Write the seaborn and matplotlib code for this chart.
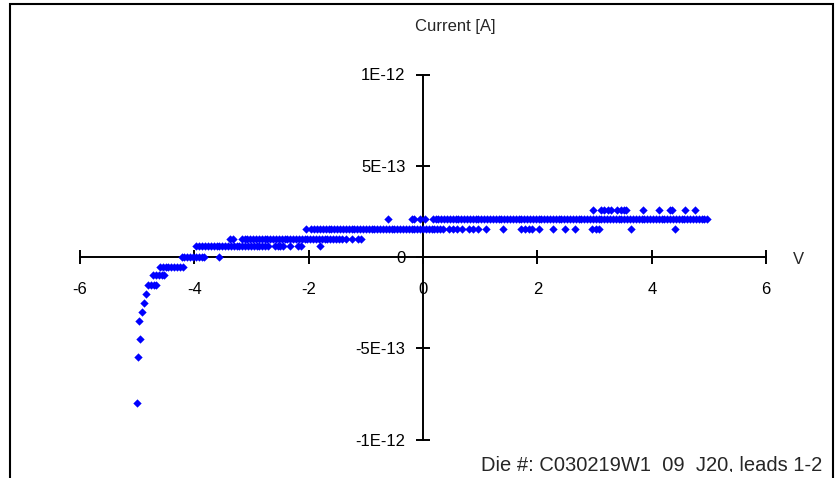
import numpy as np
import pandas as pd
import matplotlib
matplotlib.use("Agg")
import matplotlib.pyplot as plt
import seaborn as sns
from matplotlib.patches import Rectangle
from matplotlib.transforms import Bbox

# ---------------- data ----------------
# sweep step of the voltage source (V)
sweep_step = 0.05

# steep reverse-breakdown readings
tail_v = [-5.00, -4.98, -4.94, -4.96, -4.91, -4.87, -4.84]
tail_i = [-8.0e-13, -5.5e-13, -4.5e-13, -3.5e-13, -3.0e-13, -2.5e-13, -2.05e-13]

# continuous runs of readings at one current level (start V, end V, current A)
run_start = [-4.81, -4.72, -4.60, -4.22, -3.96, -3.17, -1.14, -1.95, 0.17]
run_end = [-4.65, -4.51, -4.20, -3.78, -2.70, -1.40, -1.05, 0.30, 5.00]
run_level = [-1.55e-13, -1.0e-13, -0.55e-13, 0.0, 0.6e-13, 1.0e-13, 1.0e-13,
             1.55e-13, 2.1e-13]

# isolated readings per current level
iso_v_0 = [-3.56]
iso_v_06 = [-2.59, -2.54, -2.50, -2.45, -2.33, -2.18, -2.13, -1.80]
iso_v_10 = [-3.37, -3.32, -1.34, -1.25]
iso_v_155 = [-2.05, 0.35, 0.45, 0.52, 0.60, 0.69, 0.81, 0.87, 0.96, 1.11, 1.39,
             1.72, 1.78, 1.85, 1.91, 2.02, 2.27, 2.49, 2.66, 2.96, 3.02, 3.08,
             3.64, 4.40]
iso_v_21 = [-0.61, -0.20, -0.15, -0.06, 0.03]
iso_v_255 = [2.97, 3.11, 3.17, 3.23, 3.29, 3.40, 3.46, 3.52, 3.55, 3.84, 4.12,
             4.31, 4.36, 4.58, 4.75]
iso_groups = [(iso_v_0, 0.0), (iso_v_06, 0.6e-13), (iso_v_10, 1.0e-13),
              (iso_v_155, 1.55e-13), (iso_v_21, 2.1e-13), (iso_v_255, 2.55e-13)]

x_ticks = [-6, -4, -2, 0, 2, 4, 6]
x_tick_labels = ["-6", "-4", "-2", "0", "2", "4", "6"]
y_ticks = [1e-12, 5e-13, 0, -5e-13, -1e-12]
y_tick_labels = ["1E-12", "5E-13", "0", "-5E-13", "-1E-12"]

y_title = "Current [A]"
x_title = "V"
footer = "Die #: C030219W1_09_J20, leads 1-2"

# ---------------- assemble table ----------------
vs, cs = list(tail_v), list(tail_i)
for a, b, lev in zip(run_start, run_end, run_level):
    pts = np.arange(a, b + 1e-9, sweep_step)
    vs.extend(pts.tolist())
    cs.extend([lev] * len(pts))
for vlist, lev in iso_groups:
    vs.extend(vlist)
    cs.extend([lev] * len(vlist))
df = pd.DataFrame({"V": vs, "I": cs})

# ---------------- plot ----------------
sns.set_style("white")
plt.rcParams["font.family"] = ["Liberation Sans", "DejaVu Sans"]

W, H = 836, 478
fig = plt.figure(figsize=(W / 100, H / 100), dpi=100)
fig.patch.set_facecolor("white")

ax = fig.add_axes([79.8 / W, 1 - 439.5 / H, 686.4 / W, 365 / H])
ax.patch.set_visible(False)

sns.scatterplot(data=df, x="V", y="I", marker="D", color="#0000FF", s=18,
                linewidth=0, ax=ax, legend=False, clip_on=False, zorder=3)

ax.set_xlim(-6, 6)
ax.set_ylim(-1e-12, 1e-12)
for s in ["top", "right"]:
    ax.spines[s].set_visible(False)
for s in ["left", "bottom"]:
    ax.spines[s].set_position(("data", 0))
    ax.spines[s].set_linewidth(1.4)
    ax.spines[s].set_color("black")
    ax.spines[s].set_zorder(2)

ax.set_xticks(x_ticks)
ax.set_xticklabels(x_tick_labels)
ax.set_yticks(y_ticks)
ax.set_yticklabels(y_tick_labels)
ax.tick_params(axis="both", direction="inout", length=9.4, width=1.4,
               colors="black", labelsize=12, bottom=True, left=True,
               top=False, right=False)
ax.tick_params(axis="x", pad=13)
ax.tick_params(axis="y", pad=8)
ax.set_xlabel("")
ax.set_ylabel("")
ax.grid(False)

fig.text(455 / W, 1 - 27 / H, y_title, ha="center", va="center", fontsize=12)
fig.text(798 / W, 1 - 260 / H, x_title, ha="center", va="center", fontsize=12)
ft = fig.text(822 / W, 1 - 471 / H, footer, ha="right", va="baseline",
              fontsize=14.5)
ft.set_clip_box(Bbox.from_extents(0, H - 471.5, W, H))
ft.set_clip_on(True)

fig.add_artist(Rectangle((10 / W, -0.1), 823 / W, 1.1 - 4 / H,
                         transform=fig.transFigure, fill=False,
                         edgecolor="black", linewidth=1.5))

fig.savefig("out.png", dpi=100)
